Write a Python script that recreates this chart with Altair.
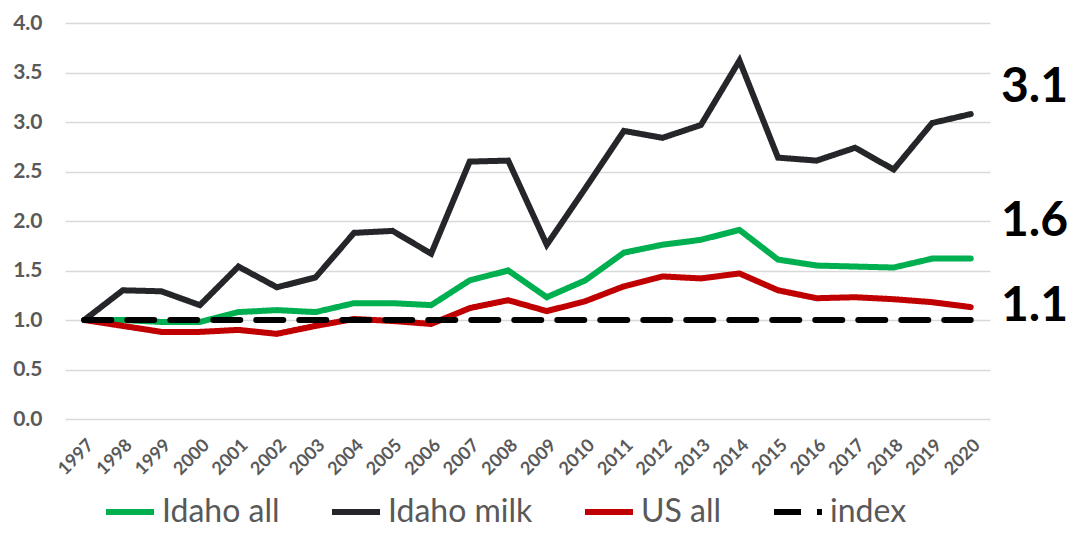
import altair as alt
import pandas as pd

years = [str(y) for y in range(1997, 2021)]
idaho_all = [1.00, 1.00, 0.98, 0.98, 1.08, 1.10, 1.08, 1.17, 1.17, 1.15, 1.40, 1.50,
             1.23, 1.40, 1.68, 1.76, 1.81, 1.91, 1.61, 1.55, 1.54, 1.53, 1.62, 1.62]
idaho_milk = [1.00, 1.30, 1.29, 1.15, 1.54, 1.33, 1.43, 1.88, 1.90, 1.67, 2.60, 2.61,
              1.76, 2.33, 2.91, 2.84, 2.97, 3.62, 2.64, 2.61, 2.74, 2.52, 2.99, 3.08]
us_all = [1.00, 0.94, 0.88, 0.88, 0.90, 0.86, 0.94, 1.01, 0.99, 0.96, 1.12, 1.20,
          1.09, 1.19, 1.34, 1.44, 1.42, 1.47, 1.30, 1.22, 1.23, 1.21, 1.18, 1.13]
index = [1.00] * 24

series_names = ["Idaho all", "Idaho milk", "US all", "index"]
series_values = [idaho_all, idaho_milk, us_all, index]
series_colors = ["#00b050", "#25262a", "#c00000", "#000000"]

rows = []
for name, vals in zip(series_names, series_values):
    for yr, v in zip(years, vals):
        rows.append({"year": yr, "value": v, "series": name})
df = pd.DataFrame(rows)

FONT = "Lato"
GRAY = "#595959"

x_enc = alt.X("year:O", scale=alt.Scale(type="point", padding=0.5),
              axis=alt.Axis(title=None, labelAngle=-45, labelFont=FONT, labelFontWeight="bold",
                            labelFontSize=18, labelColor=GRAY, labelPadding=17,
                            domain=False, ticks=False, grid=False))
y_scale = alt.Scale(domain=[0, 4], nice=False, zero=True)
y_enc = alt.Y("value:Q", scale=y_scale,
              axis=alt.Axis(title=None, values=[0, 0.5, 1, 1.5, 2, 2.5, 3, 3.5, 4], format=".1f",
                            labelFont=FONT, labelFontWeight="bold", labelFontSize=21,
                            labelColor=GRAY, labelPadding=23, domain=False, ticks=False,
                            grid=True, gridColor="#d9d9d9", gridWidth=1.5))

lines = alt.Chart(df).mark_line(strokeCap="round", strokeJoin="miter").encode(
    x=x_enc,
    y=y_enc,
    color=alt.Color("series:N", sort=series_names,
                    scale=alt.Scale(domain=series_names, range=series_colors),
                    legend=alt.Legend(title=None, orient="none", direction="horizontal",
                                      legendX=38, legendY=462, symbolType="stroke",
                                      symbolSize=2300, labelFont=FONT, labelFontSize=32,
                                      labelColor=GRAY, labelOffset=5, columnPadding=40,
                                      symbolStrokeWidth=7)),
    strokeDash=alt.StrokeDash("series:N", sort=series_names,
                              scale=alt.Scale(domain=series_names,
                                              range=[[1, 0], [1, 0], [1, 0], [27, 16]]),
                              legend=None),
    strokeWidth=alt.StrokeWidth("series:N", sort=series_names,
                                scale=alt.Scale(domain=series_names, range=[6, 6, 6, 4.5]),
                                legend=None),
    order=alt.Order("year:O"),
)

end_labels = pd.DataFrame({
    "series": ["Idaho milk", "Idaho all", "US all"],
    "value": [idaho_milk[-1], idaho_all[-1], us_all[-1]],
})

def end_text(name, dy):
    return alt.Chart(end_labels).transform_filter(
        alt.datum.series == name
    ).mark_text(align="left", baseline="middle", font=FONT, fontWeight="bold",
                fontSize=48, color="#000000", dy=dy).encode(
        x=alt.value(936),
        y=alt.Y("value:Q", scale=y_scale),
        text=alt.Text("value:Q", format=".1f"),
    )

chart = alt.layer(
    lines,
    end_text("Idaho milk", -26),
    end_text("Idaho all", -37),
    end_text("US all", 0),
).properties(
    width=925, height=396,
    autosize=alt.AutoSizeParams(type="none"),
    padding={"left": 57, "top": 15, "right": 78, "bottom": 110},
).configure_view(stroke=None)

chart.save("out.html", embed_options={"renderer": "svg", "actions": False})
